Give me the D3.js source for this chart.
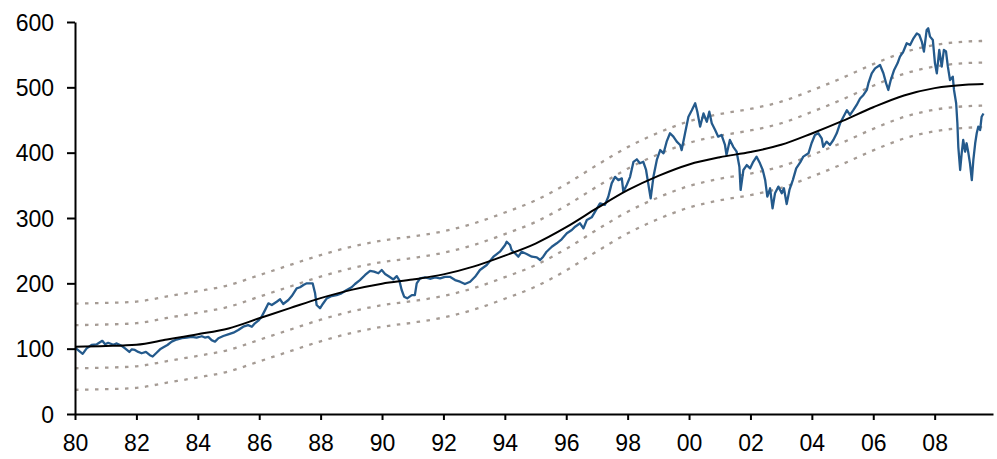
<!DOCTYPE html>
<html>
<head>
<meta charset="utf-8">
<script src="https://cdn.jsdelivr.net/npm/d3@7"></script>
<style>
  html, body { margin: 0; padding: 0; background: #fff; }
  svg { display: block; }
  .axis text { font-family: "Liberation Sans", Arial, sans-serif; font-size: 23px; fill: #000; }
  .axis path, .axis line { stroke: #000; stroke-width: 2px; }
</style>
</head>
<body>
<svg id="chart" width="997" height="459"></svg>
<script>
// Index level, sampled as decimal years
const indexDates = [
  1980.00,1980.25,1980.38,1980.54,1980.71,1980.89,1980.98,1981.08,1981.25,1981.36,
  1981.52,1981.63,1981.77,1981.85,1981.95,1982.06,1982.17,1982.31,1982.44,1982.53,
  1982.64,1982.77,1982.88,1983.01,1983.15,1983.31,1983.48,1983.64,1983.80,1983.96,
  1984.13,1984.23,1984.34,1984.45,1984.56,1984.67,1984.83,1984.99,1985.16,1985.32,
  1985.48,1985.64,1985.76,1985.86,1985.97,1986.08,1986.19,1986.30,1986.41,1986.57,
  1986.68,1986.78,1986.95,1987.06,1987.22,1987.33,1987.44,1987.55,1987.65,1987.74,
  1987.82,1987.87,1987.98,1988.07,1988.20,1988.36,1988.52,1988.68,1988.85,1989.01,
  1989.12,1989.28,1989.45,1989.61,1989.74,1989.88,1989.99,1990.10,1990.24,1990.37,
  1990.48,1990.56,1990.64,1990.72,1990.82,1990.97,1991.07,1991.13,1991.24,1991.40,
  1991.56,1991.73,1991.89,1992.05,1992.21,1992.38,1992.54,1992.70,1992.87,1993.03,
  1993.19,1993.41,1993.63,1993.84,1994.01,1994.06,1994.17,1994.22,1994.33,1994.44,
  1994.55,1994.71,1994.88,1995.04,1995.15,1995.25,1995.36,1995.53,1995.69,1995.85,
  1996.02,1996.18,1996.29,1996.45,1996.56,1996.67,1996.83,1996.94,1997.10,1997.26,
  1997.37,1997.48,1997.59,1997.70,1997.81,1997.86,1997.97,1998.08,1998.19,1998.30,
  1998.40,1998.51,1998.60,1998.67,1998.75,1998.84,1998.95,1999.06,1999.17,1999.27,
  1999.38,1999.49,1999.60,1999.71,1999.76,1999.87,1999.98,2000.09,2000.20,2000.27,
  2000.36,2000.47,2000.58,2000.66,2000.74,2000.85,2000.95,2001.06,2001.17,2001.22,
  2001.33,2001.44,2001.55,2001.64,2001.68,2001.77,2001.88,2001.99,2002.09,2002.20,
  2002.31,2002.40,2002.48,2002.55,2002.64,2002.72,2002.80,2002.91,2003.02,2003.09,
  2003.18,2003.27,2003.38,2003.49,2003.62,2003.72,2003.89,2003.99,2004.10,2004.21,
  2004.32,2004.37,2004.48,2004.59,2004.70,2004.81,2004.92,2005.03,2005.14,2005.24,
  2005.35,2005.46,2005.57,2005.68,2005.79,2005.84,2005.95,2006.06,2006.22,2006.33,
  2006.42,2006.49,2006.57,2006.68,2006.79,2006.87,2006.98,2007.09,2007.20,2007.31,
  2007.42,2007.50,2007.58,2007.65,2007.74,2007.79,2007.85,2007.94,2008.01,2008.07,
  2008.15,2008.23,2008.30,2008.37,2008.43,2008.50,2008.59,2008.63,2008.70,2008.74,
  2008.77,2008.83,2008.88,2008.93,2008.99,2009.04,2009.10,2009.15,2009.21,2009.26,
  2009.32,2009.37,2009.42,2009.48,2009.53,2009.59
];
const indexValues = [
  101.5,92,100.5,105.6,106.7,112,106.7,109,106,108,
  104.5,100.5,95,99,98,95,93,95,90,88,
  93,99,102,105.6,110.7,114,116,117,118,117,
  119,117,118,113,110.7,116,119.4,122,124.5,128.6,
  133.6,136,133.6,138.8,142.8,149,159,169.4,166.8,171.9,
  175.6,168.4,174.5,180.6,192.4,194,197.5,200,200,200,
  184.7,166.8,161.8,168.4,177,180.6,182,184.7,189.8,194,
  199,205,212.8,219,217.8,215.4,220.4,214.3,210,206,
  211,205,189.8,179.6,177,182,182,200,207.7,209,
  207,209,207.7,210,210,205,202.5,199,202.5,210,
  220.4,228,240.8,248.4,258.7,263.7,258.7,251,246,240.8,
  248.4,245,240.8,239.8,235.7,240.8,248.4,256,261.3,267.4,
  276.6,281.6,286.7,291.9,284.2,297,301,309.7,322.5,320,
  332.6,353,363,358,360.7,340,350.5,363,386,389.8,
  383.7,386,373.5,353,330,363,388.8,404,399,416.8,
  429.7,424.5,416.8,411.8,404,429.7,455,465,475.6,462.7,
  439.8,460,447.4,462.7,445,434.7,424.5,427,411.8,396.4,
  419.4,409,401.5,378.5,342.9,373.5,381,376,386,393.9,
  383.7,373.5,358,332.6,345.5,314.9,337.8,348,337.8,345.5,
  321.4,342.9,358,376,385,393.9,399,414.4,427,429.7,
  422,409,416.8,411.8,419.4,429.7,445,455,465,457.7,
  465,473,483,488.3,496,506,521.5,529,534.2,521.5,
  506,496,511.2,526.6,536.8,547,554.8,567.4,564.8,575,
  582.6,580.1,570,554.8,587.8,590.3,577.6,572.5,536.8,521.5,
  557.2,531.6,557.2,554.8,531.6,511.2,516.3,496,475.6,445,
  409,373.5,399,419.4,401.5,414.4,399,383.7,358,388.8,
  414.4,429.7,439.8,434.7,455,460
];

// Long-run trend of the index
const trendYears  = [1980,1981,1982,1983,1984,1985,1986,1987,1988,1989,1990,1991,1992,1993,1994,
                     1995,1996,1997,1998,1999,2000,2001,2002,2003,2004,2005,2006,2007,2008,2009,2009.59];
const trendValues = [103,104,106,114,122,131,146.5,162,177.3,190,199.5,205.8,213.7,225.9,242.4,
                     260.9,285.9,315,342.5,364.5,382,393,401,412,429.4,448.6,469.5,487.6,498.8,504,505];

// Bands drawn at fixed distances above and below the trend
const bandOffsets = [66, 33, -33, -66];

const yTicks = [0, 100, 200, 300, 400, 500, 600];
const xTicks = [1980,1982,1984,1986,1988,1990,1992,1994,1996,1998,2000,2002,2004,2006,2008];

const svg = d3.select("#chart");
const plotLeft = 75, plotRight = 993, plotTop = 22, plotBottom = 414;

const x = d3.scaleLinear().domain([1980, 2009.9]).range([plotLeft, plotRight]);
const y = d3.scaleLinear().domain([0, 600]).range([plotBottom, plotTop]);

const trend = trendYears.map((t, i) => ({ t, v: trendValues[i] }));
const index = indexDates.map((t, i) => ({ t, v: indexValues[i] }));

const smooth = d3.line().x(d => x(d.t)).y(d => y(d.v)).curve(d3.curveMonotoneX);
const jagged = d3.line().x(d => x(d.t)).y(d => y(d.v));

// Dotted bands
bandOffsets.forEach(off => {
  svg.append("path")
    .datum(trend.map(d => ({ t: d.t, v: d.v + off })))
    .attr("d", smooth)
    .attr("fill", "none")
    .attr("stroke", "#a59b94")
    .attr("stroke-width", 2.3)
    .attr("stroke-dasharray", "3.5,6.5");
});

// Index line
svg.append("path")
  .datum(index)
  .attr("d", jagged)
  .attr("fill", "none")
  .attr("stroke", "#245a8c")
  .attr("stroke-width", 2.3)
  .attr("stroke-linejoin", "round");

// Trend line
svg.append("path")
  .datum(trend)
  .attr("d", smooth)
  .attr("fill", "none")
  .attr("stroke", "#000")
  .attr("stroke-width", 2);

// Axes
const yAxis = d3.axisLeft(y).tickValues(yTicks).tickSize(8).tickPadding(13).tickSizeOuter(0);
svg.append("g").attr("class", "axis").attr("transform", `translate(${plotLeft},0)`).call(yAxis)
  .selectAll("text").attr("dy", "0.36em");

const xAxis = d3.axisBottom(x).tickValues(xTicks).tickSize(6).tickPadding(15).tickSizeOuter(0)
  .tickFormat(d => String(d % 100).padStart(2, "0"));
svg.append("g").attr("class", "axis").attr("transform", `translate(0,${plotBottom})`).call(xAxis);
</script>
</body>
</html>
